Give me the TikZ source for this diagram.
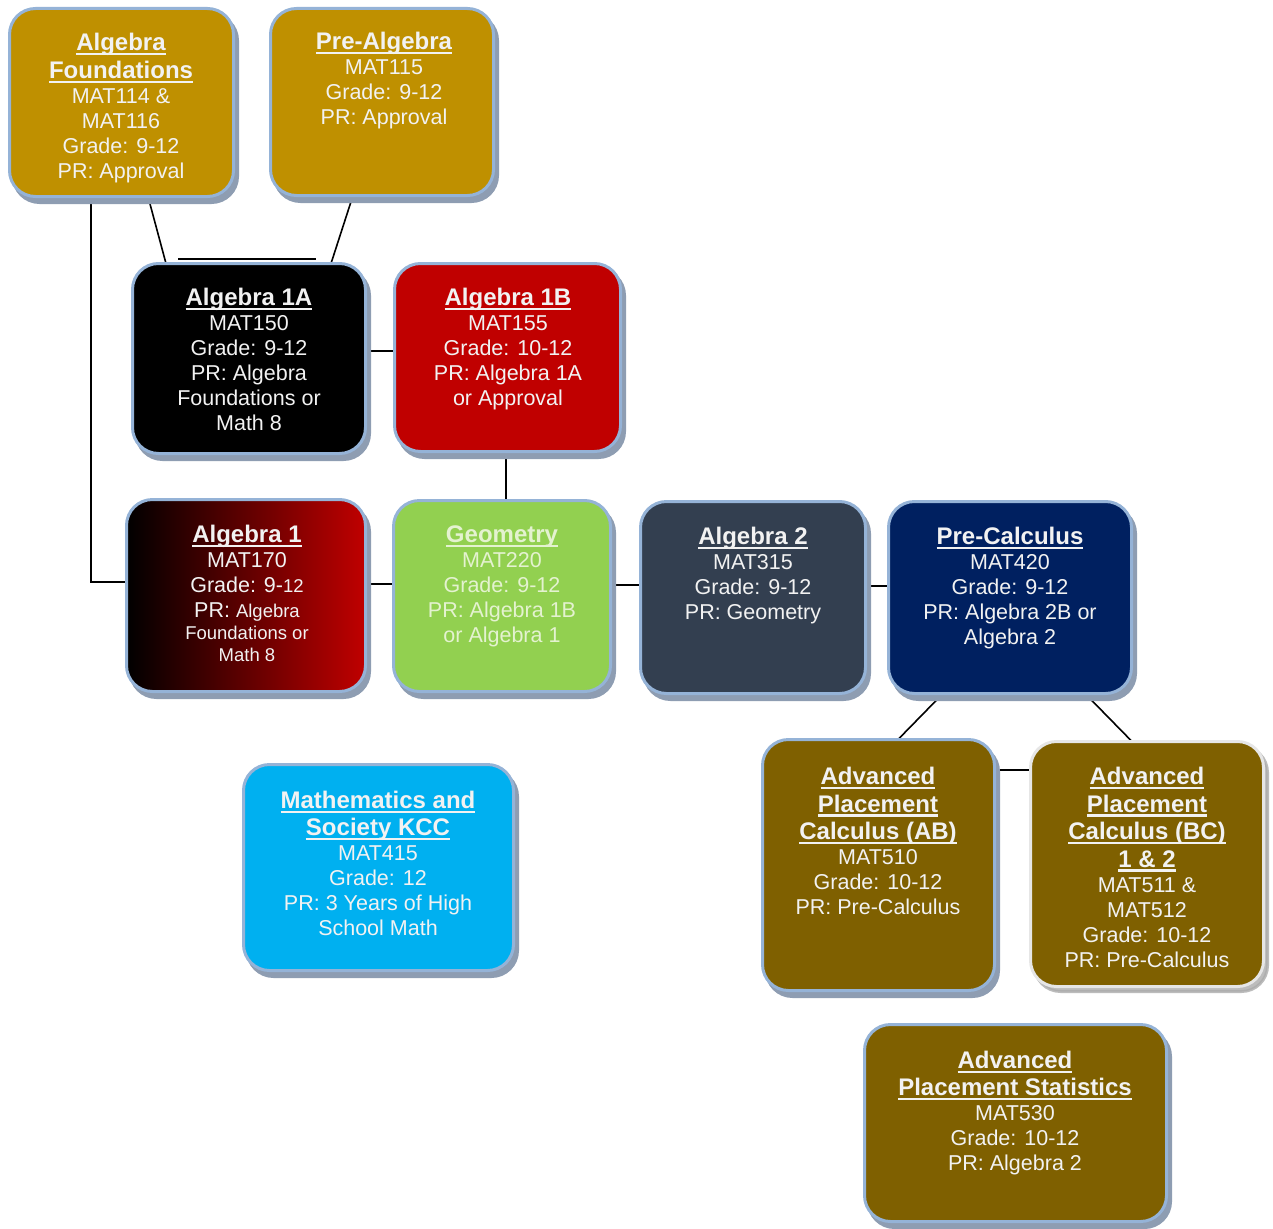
\documentclass[tikz,border=0pt]{standalone}
\usepackage{fontspec}
\setmainfont{Liberation Sans}
\usetikzlibrary{shadows}
\pgfdeclarelayer{background}
\pgfsetlayers{background,main}

\definecolor{gold}{HTML}{BF9000}
\definecolor{crimson}{HTML}{C00000}
\definecolor{leaf}{HTML}{92D050}
\definecolor{slate}{HTML}{333F50}
\definecolor{navy}{HTML}{002060}
\definecolor{sky}{HTML}{00B0F0}
\definecolor{bronze}{HTML}{7F6000}
\definecolor{edgeblue}{HTML}{95B3D7}
\definecolor{shadowblue}{HTML}{8E9DB2}
\definecolor{edgegray}{HTML}{E6E6E6}
\definecolor{shadowgray}{HTML}{ABABAB}
\definecolor{textwhite}{HTML}{F2F2F2}
\definecolor{textpale}{HTML}{E4F2D0}

% underlined bold course title
\newcommand\ttl[1]{{\fontsize{24}{25}\selectfont\bfseries\setbox0=\hbox{#1}\rlap{\rule[-4.5pt]{\wd0}{2.2pt}}\box0}}
% smaller text used inside some lines
\newcommand\smt[1]{{\fontsize{18.5}{22}\selectfont #1}}

\begin{document}
\begin{tikzpicture}[x=1pt,y=-1pt,
  boxbase/.style={rounded corners=26pt, line width=3pt, inner sep=0pt, outer sep=0pt},
  box/.style={boxbase, draw=edgeblue,
    drop shadow={shadow xshift=4pt, shadow yshift=-6pt, fill=shadowblue, draw=shadowblue, line width=3pt, opacity=1}},
  boxgray/.style={boxbase, draw=edgegray,
    drop shadow={shadow xshift=4pt, shadow yshift=-5pt, fill=shadowgray, draw=shadowgray, line width=3pt, opacity=0.8}},
  txt/.style={align=center, inner sep=0pt, anchor=north, text=textwhite, font=\fontsize{21.5}{25}\selectfont},
  link/.style={line width=1.6pt, black}]

\useasboundingbox (0,0) rectangle (1273,1228);

% course boxes
\node[box, fill=gold, minimum width=224pt, minimum height=188pt] (af) at (121.5,102.5) {};
\node[box, fill=gold, minimum width=223pt, minimum height=187pt] (pa) at (382,102) {};
\node[box, fill=black, minimum width=233pt, minimum height=190pt] (a1a) at (249,358.5) {};
\node[box, fill=crimson, minimum width=226pt, minimum height=188pt] (a1b) at (507.5,357.5) {};
\node[box, left color=black, right color=crimson, minimum width=239pt, minimum height=192pt] (a1) at (246,595.5) {};
\node[box, fill=leaf, minimum width=217pt, minimum height=191pt] (geo) at (502,596) {};
\node[box, fill=slate, minimum width=225pt, minimum height=192pt] (a2) at (753,597.5) {};
\node[box, fill=navy, minimum width=243pt, minimum height=192pt] (pc) at (1010,597.5) {};
\node[box, fill=sky, minimum width=270pt, minimum height=206pt] (mas) at (378.5,867.5) {};
\node[box, fill=bronze, minimum width=232pt, minimum height=251pt] (ab) at (878.5,865) {};
\node[boxgray, fill=bronze, minimum width=233pt, minimum height=245pt] (bc) at (1147,864) {};
\node[box, fill=bronze, minimum width=302pt, minimum height=197pt] (st) at (1015.5,1123) {};

% course texts
\node[txt] (af-t) at (121,33) {\ttl{Algebra}\\[3pt]\ttl{Foundations}\\MAT114 \&\\MAT116\\Grade: 9-12\\PR: Approval};
\node[txt] (pa-t) at (384,32) {\ttl{Pre-Algebra}\\MAT115\\Grade: 9-12\\PR: Approval};
\node[txt] (a1a-t) at (249,288) {\ttl{Algebra 1A}\\MAT150\\Grade: 9-12\\PR: Algebra\\Foundations or\\Math 8};
\node[txt] (a1b-t) at (508,288) {\ttl{Algebra 1B}\\MAT155\\Grade: 10-12\\PR: Algebra 1A\\or Approval};
\node[txt] (a1-t) at (247,525) {\ttl{Algebra 1}\\MAT170\\Grade: 9-\smt{12}\\PR: \smt{Algebra}\\[-3pt]\smt{Foundations or}\\[-3pt]\smt{Math 8}};
\node[txt, text=textpale] (geo-t) at (502,526) {\ttl{Geometry}\\MAT220\\Grade: 9-12\\PR: Algebra 1B\\or Algebra 1};
\node[txt] (a2-t) at (753,527) {\ttl{Algebra 2}\\MAT315\\Grade: 9-12\\PR: Geometry};
\node[txt] (pc-t) at (1010,527) {\ttl{Pre-Calculus}\\MAT420\\Grade: 9-12\\PR: Algebra 2B or\\Algebra 2};
\node[txt] (mas-t) at (378,791) {\ttl{Mathematics and}\\[2pt]\ttl{Society KCC}\\MAT415\\Grade: 12\\PR: 3 Years of High\\School Math};
\node[txt] (ab-t) at (878,767) {\ttl{Advanced}\\[2.5pt]\ttl{Placement}\\[2.5pt]\ttl{Calculus (AB)}\\MAT510\\Grade: 10-12\\PR: Pre-Calculus};
\node[txt] (bc-t) at (1147,767) {\ttl{Advanced}\\[2.5pt]\ttl{Placement}\\[2.5pt]\ttl{Calculus (BC)}\\[2.5pt]\ttl{1 \& 2}\\MAT511 \&\\MAT512\\Grade: 10-12\\PR: Pre-Calculus};
\node[txt] (st-t) at (1015,1051) {\ttl{Advanced}\\[2pt]\ttl{Placement Statistics}\\MAT530\\Grade: 10-12\\PR: Algebra 2};

% connectors, kept behind the boxes
\begin{pgfonlayer}{background}
\draw[link] ([xshift=-30.5pt]af.south) |- ([yshift=13.5pt]a1.west);
\draw[link] ([xshift=26.5pt]af.south) -- ([xshift=-83pt]a1a.north);
\draw[link] ([xshift=-29pt]pa.south) -- ([xshift=82pt]a1a.north);
\draw[link] ([xshift=-71pt,yshift=4.5pt]a1a.north) -- ([xshift=67pt,yshift=4.5pt]a1a.north);
\draw[link] ([yshift=7.5pt]a1a.east) -- ([yshift=7.5pt]a1a.east -| a1b.west);
\draw[link] ([xshift=-1.5pt]a1b.south) -- ([xshift=-1.5pt]a1b.south |- geo.north);
\draw[link] ([yshift=11.5pt]a1.east) -- ([yshift=11.5pt]a1.east -| geo.west);
\draw[link] ([yshift=11pt]geo.east) -- ([yshift=11pt]geo.east -| a2.west);
\draw[link] ([yshift=11.5pt]a2.east) -- ([yshift=11.5pt]a2.east -| pc.west);
\draw[link] ([xshift=-67pt]pc.south) -- ([xshift=19.5pt]ab.north);
\draw[link] ([xshift=75pt]pc.south) -- ([xshift=-15pt]bc.north);
\draw[link] ([yshift=95pt]ab.east) -- ([yshift=95pt]ab.east -| bc.west);
\end{pgfonlayer}
\end{tikzpicture}
\end{document}
